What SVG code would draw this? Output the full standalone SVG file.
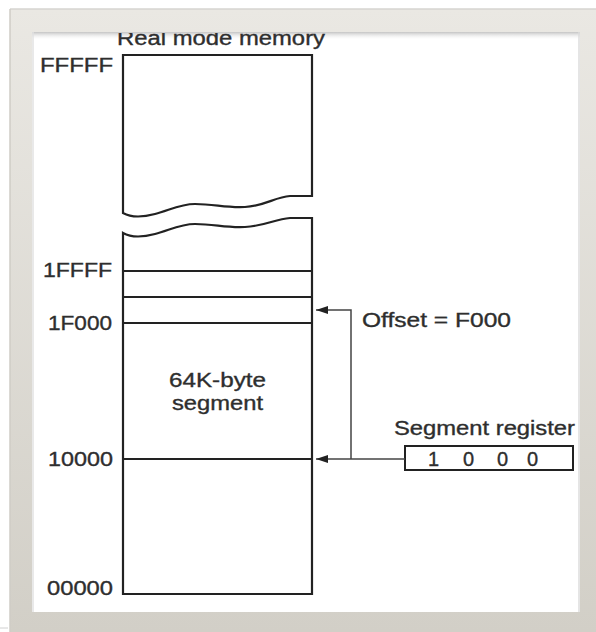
<svg xmlns="http://www.w3.org/2000/svg" width="596" height="632" viewBox="0 0 596 632">
<defs>
<linearGradient id="frameGrad" x1="0" y1="0" x2="0" y2="1">
<stop offset="0" stop-color="#eae8e3"/>
<stop offset="1" stop-color="#d2cfc7"/>
</linearGradient>
<linearGradient id="topShadow" x1="0" y1="0" x2="0" y2="1">
<stop offset="0" stop-color="#c4c4c4"/>
<stop offset="1" stop-color="#ffffff" stop-opacity="0"/>
</linearGradient>
<clipPath id="innerClip"><rect x="32" y="33" width="548" height="579"/></clipPath>
<marker id="arrow" viewBox="0 0 12 8" refX="12" refY="4" markerWidth="12" markerHeight="8" markerUnits="userSpaceOnUse" orient="auto">
<path d="M0,0 L12,4 L0,8 Z" fill="#222"/>
</marker>
<style>
.lbl{font-family:"Liberation Sans",Arial,sans-serif;font-size:20px;fill:#2e2e2e;stroke:#2e2e2e;stroke-width:0.35}
.mem{fill:#fff;stroke:#222;stroke-width:2.2}
.div{stroke:#222;stroke-width:2.2}
.conn{fill:none;stroke:#444;stroke-width:1.5}
</style>
</defs>
<rect x="0" y="0" width="596" height="632" fill="#fff"/>
<g id="frame">
<rect x="10" y="9" width="586" height="623" fill="url(#frameGrad)"/>
<line x1="10" y1="9" x2="596" y2="9" stroke="#d6d5d0" stroke-width="1.5"/>
<line x1="10" y1="9" x2="10" y2="632" stroke="#cfcdc6" stroke-width="1.5"/>
<rect x="32" y="32" width="548" height="580" fill="#fff"/>
<rect x="32" y="32" width="548" height="8" fill="url(#topShadow)"/>
<line x1="33" y1="32" x2="33" y2="612" stroke="#e2e2e2" stroke-width="1.5"/>
<line x1="579" y1="32" x2="579" y2="612" stroke="#dcdcdc" stroke-width="1.5"/>
<line x1="0" y1="628" x2="8" y2="628" stroke="#d0d0d0" stroke-width="1"/>
</g>
<g id="title" clip-path="url(#innerClip)">
<text class="lbl" x="117" y="45" textLength="208" lengthAdjust="spacingAndGlyphs">Real mode memory</text>
</g>
<g id="memory">
<path class="mem" d="M123,213 V55 H312 V196 H290 C275,197 265,206 245,207 C225,208 215,204 195,204 C180,204 170,210 155,214 C140,218 130,217 123,213 Z"/>
<path class="mem" d="M123,233 C130,237 140,238 155,234 C170,230 180,224 195,224 C215,224 225,228 245,227 C265,226 275,219 290,218 H312 V594 H123 Z"/>
<line class="div" x1="123" y1="271" x2="312" y2="271"/>
<line class="div" x1="123" y1="297" x2="312" y2="297"/>
<line class="div" x1="123" y1="323" x2="312" y2="323"/>
<line class="div" x1="123" y1="459" x2="312" y2="459"/>
<text class="lbl" x="217.5" y="387" text-anchor="middle" textLength="97" lengthAdjust="spacingAndGlyphs">64K-byte</text>
<text class="lbl" x="217.5" y="410" text-anchor="middle" textLength="91" lengthAdjust="spacingAndGlyphs">segment</text>
</g>
<g id="addresses">
<text class="lbl" x="40" y="72" textLength="73" lengthAdjust="spacingAndGlyphs">FFFFF</text>
<text class="lbl" x="43" y="277" textLength="69" lengthAdjust="spacingAndGlyphs">1FFFF</text>
<text class="lbl" x="48" y="330" textLength="64" lengthAdjust="spacingAndGlyphs">1F000</text>
<text class="lbl" x="48" y="466" textLength="65" lengthAdjust="spacingAndGlyphs">10000</text>
<text class="lbl" x="47" y="595" textLength="66" lengthAdjust="spacingAndGlyphs">00000</text>
</g>
<g id="offset">
<text class="lbl" x="362" y="327" textLength="149" lengthAdjust="spacingAndGlyphs">Offset = F000</text>
</g>
<g id="segment-register">
<text class="lbl" x="394" y="435" textLength="181" lengthAdjust="spacingAndGlyphs">Segment register</text>
<rect x="405" y="446" width="168" height="24" fill="#fff" stroke="#222" stroke-width="2"/>
<text class="lbl" style="font-size:20px" x="428 447 463 482 497 514 527" y="466">1 0 0 0</text>
</g>
<g id="connectors">
<path class="conn" d="M351,459 V310 H316" marker-end="url(#arrow)"/>
<path class="conn" d="M405,459 H316" marker-end="url(#arrow)"/>
</g>
</svg>
